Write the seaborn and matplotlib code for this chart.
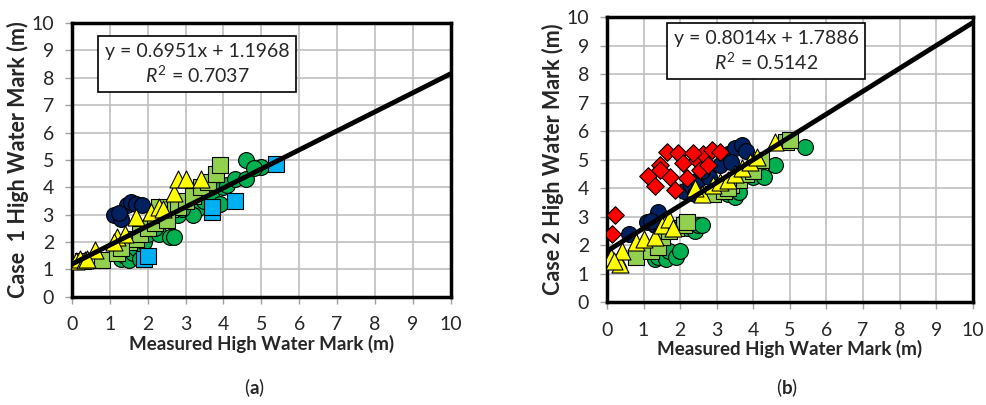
import numpy as np
import pandas as pd
import matplotlib
matplotlib.use("Agg")
import matplotlib.pyplot as plt
import seaborn as sns

# ---- panel (a) data: measured vs case 1 high water mark (m) ----
a_navy_x = [1.1, 1.3, 1.45, 1.55, 1.7, 1.85, 1.25]
a_navy_y = [3.0, 2.85, 3.35, 3.45, 3.4, 3.35, 3.05]
a_green_x = [1.3, 1.4, 1.5, 1.6, 1.7, 1.9, 2.0, 2.3, 2.6, 2.7, 2.5, 2.8, 3.0, 3.3,
             3.5, 3.7, 4.0, 4.1, 4.3, 4.6, 4.6, 5.0, 4.8, 3.9, 3.2, 2.2, 1.8, 2.9]
a_green_y = [1.4, 1.5, 1.35, 1.6, 1.8, 2.0, 2.3, 2.3, 2.2, 2.2, 2.9, 3.0, 3.3, 3.2,
             3.5, 3.6, 4.0, 4.1, 4.3, 4.3, 5.0, 4.75, 4.7, 3.4, 3.0, 2.5, 1.4, 3.2]
a_lgreen_x = [0.3, 0.8, 1.2, 1.5, 1.7, 1.8, 2.0, 2.2, 2.4, 2.6, 2.8, 3.0, 3.2, 3.4,
              3.6, 3.8, 3.9, 2.3, 2.5, 1.3]
a_lgreen_y = [1.3, 1.35, 1.6, 2.0, 2.1, 2.3, 2.5, 2.7, 3.0, 3.2, 3.3, 3.5, 3.7, 4.0,
              4.2, 4.5, 4.8, 3.3, 2.8, 1.8]
a_yellow_x = [0.1, 0.2, 0.35, 0.6, 1.2, 1.4, 1.7, 2.1, 2.3, 2.4, 2.7, 2.8, 3.0, 3.4, 1.1, 0.4]
a_yellow_y = [1.3, 1.4, 1.35, 1.7, 2.2, 2.3, 2.9, 3.1, 3.3, 3.2, 3.8, 4.3, 4.3, 4.3, 2.0, 1.4]
a_blue_x = [1.9, 2.0, 3.7, 3.7, 4.3, 5.4]
a_blue_y = [1.4, 1.5, 3.1, 3.3, 3.5, 4.85]
a_fit = [0.6951, 1.1968]
a_r2 = 0.7037

# ---- panel (b) data: measured vs case 2 high water mark (m) ----
b_navy_x = [0.6, 1.1, 1.3, 1.4, 1.2, 2.1, 2.3, 2.5, 2.7, 2.8, 3.1, 3.3, 3.5, 3.7, 3.8, 3.4, 2.4, 2.6]
b_navy_y = [2.4, 2.8, 2.7, 3.15, 2.85, 3.9, 4.1, 4.3, 4.5, 4.4, 4.8, 5.2, 5.4, 5.5, 5.3, 4.9, 3.8, 4.6]
b_green_x = [1.3, 1.4, 1.6, 1.7, 1.9, 2.0, 2.2, 2.4, 2.5, 2.6, 3.3, 3.5, 3.6, 4.0,
             4.3, 4.6, 5.4, 1.8, 2.1, 3.1]
b_green_y = [1.5, 1.6, 1.5, 1.8, 1.6, 1.8, 2.6, 2.5, 2.7, 2.7, 3.8, 3.7, 3.85, 4.4,
             4.4, 4.8, 5.45, 2.6, 2.8, 3.9]
b_lgreen_x = [0.8, 1.2, 1.4, 1.5, 1.7, 1.9, 2.1, 2.2, 2.9, 3.2, 3.4, 3.6, 3.8, 4.0,
              4.2, 4.9, 5.0, 3.3]
b_lgreen_y = [1.6, 1.8, 1.95, 2.3, 2.5, 2.6, 2.7, 2.8, 3.8, 3.9, 4.1, 4.3, 4.5, 4.6,
              5.0, 5.6, 5.7, 4.0]
b_yellow_x = [0.1, 0.3, 0.35, 0.4, 0.8, 1.0, 1.3, 1.5, 1.7, 1.8, 2.6, 2.9, 3.1, 3.3,
              3.5, 3.7, 3.9, 4.1, 4.6, 2.4, 0.2]
b_yellow_y = [1.6, 1.5, 1.35, 1.8, 2.1, 2.2, 2.3, 2.7, 2.9, 2.6, 3.8, 4.1, 4.2, 4.3,
              4.5, 4.7, 4.9, 5.1, 5.6, 4.0, 1.45]
b_red_x = [0.22, 0.14, 1.12, 1.3, 1.45, 1.63, 1.95, 1.72, 1.86, 2.2, 2.07, 2.45, 2.63,
           2.87, 3.08, 2.54, 2.76, 1.45, 2.35]
b_red_y = [3.05, 2.4, 4.42, 4.07, 4.8, 5.26, 5.22, 4.39, 3.93, 4.35, 4.87, 4.98, 5.2,
           5.33, 5.26, 4.63, 4.8, 4.65, 5.22]
b_fit = [0.8014, 1.7886]
b_r2 = 0.5142

ticks = list(range(0, 11))

sns.set_style("white")
plt.rcParams["font.family"] = ["Lato", "DejaVu Sans"]
plt.rcParams["mathtext.fontset"] = "custom"
plt.rcParams["mathtext.rm"] = "Lato"
plt.rcParams["mathtext.it"] = "Lato:italic"
plt.rcParams["mathtext.bf"] = "Lato:bold"

fig = plt.figure(figsize=(9.86, 4.05), dpi=100)
ax_a = fig.add_axes([0.073, 0.267, 0.384, 0.676])
ax_b = fig.add_axes([0.6156, 0.254, 0.371, 0.704])


def draw_panel(ax, series, fit, r2, ylabel, box_xy):
    for xs, ys, color, marker, size in series:
        sns.scatterplot(x=xs, y=ys, ax=ax, color=color, marker=marker, s=size,
                        edgecolor="black", linewidth=0.8, zorder=3, legend=False)
    xl = np.array([0, 10])
    ax.plot(xl, fit[0] * xl + fit[1], color="black", lw=3.5, zorder=4)
    ax.set_xlim(0, 10)
    ax.set_ylim(0, 10)
    ax.set_xticks(ticks)
    ax.set_yticks(ticks)
    ax.grid(True, color="#BFBFBF", lw=1.2, zorder=0)
    ax.set_axisbelow(True)
    for sp in ax.spines.values():
        sp.set_color("black")
        sp.set_linewidth(2.5)
    ax.tick_params(axis="both", which="both", direction="out", length=5, width=1,
                   color="#A0A0A0", labelsize=14, left=True, bottom=True)
    ax.tick_params(axis="x", pad=9)
    ax.tick_params(axis="y", pad=8)
    ax.set_xlabel("Measured High Water Mark (m)", fontsize=13.5, fontweight="bold", labelpad=1)
    ax.set_ylabel(ylabel, fontsize=15.5, fontweight="bold", labelpad=2)
    ax.text(box_xy[0], box_xy[1],
            f"y = {fit[0]:.4f}x + {fit[1]:.4f}\n$R^{{2}}$ = {r2:.4f}",
            ha="center", va="center", fontsize=14, linespacing=1.25, zorder=6,
            bbox=dict(boxstyle="square,pad=0.35", fc="white", ec="black", lw=1.2))


draw_panel(ax_a,
           [(a_navy_x, a_navy_y, "#002060", "o", 130),
            (a_green_x, a_green_y, "#00B050", "o", 130),
            (a_lgreen_x, a_lgreen_y, "#92D050", "s", 130),
            (a_yellow_x, a_yellow_y, "#FFFF00", "^", 150),
            (a_blue_x, a_blue_y, "#00B0F0", "s", 130)],
           a_fit, a_r2, "Case  1 High Water Mark (m)", (3.3, 8.5))

draw_panel(ax_b,
           [(b_navy_x, b_navy_y, "#002060", "o", 130),
            (b_green_x, b_green_y, "#00B050", "o", 130),
            (b_lgreen_x, b_lgreen_y, "#92D050", "s", 130),
            (b_yellow_x, b_yellow_y, "#FFFF00", "^", 150),
            (b_red_x, b_red_y, "#FF0000", "D", 80)],
           b_fit, b_r2, "Case 2 High Water Mark (m)", (4.35, 8.8))

fig.text(0.258, 0.028, r"($\mathbf{a}$)", ha="center", fontsize=13.5)
fig.text(0.798, 0.028, r"($\mathbf{b}$)", ha="center", fontsize=13.5)

fig.savefig("out.png", dpi=100)
